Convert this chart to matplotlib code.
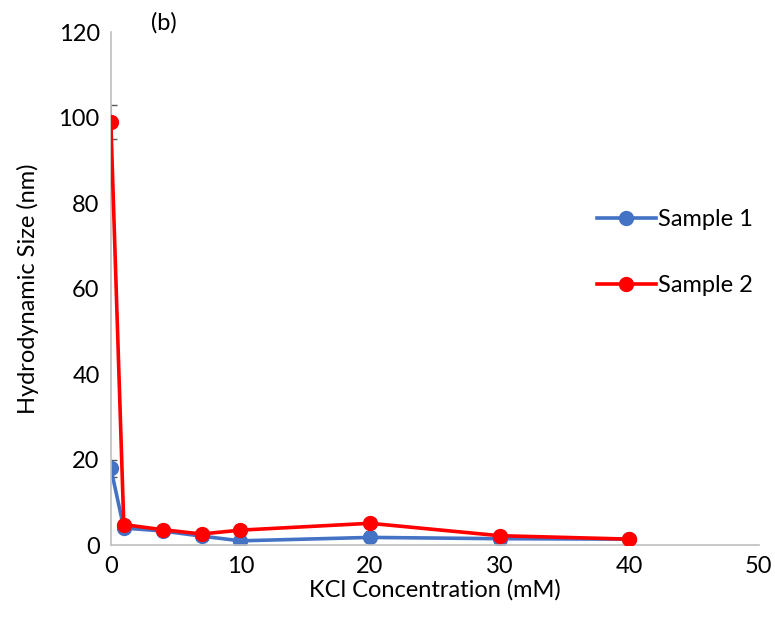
import numpy as np
import matplotlib.pyplot as plt

plt.rcParams['font.family'] = ['Lato', 'DejaVu Sans']

kcl = [0, 1, 4, 7, 10, 20, 30, 40]
sample1 = [18.0, 4.0, 3.3, 2.1, 1.0, 1.8, 1.5, 1.4]
sample2 = [99.0, 4.8, 3.6, 2.6, 3.5, 5.1, 2.2, 1.4]
err1 = [2.0, 0, 0, 0, 0, 0, 0, 0]
err2 = [4.0, 0, 0, 0, 0, 0, 0, 0]

fig = plt.figure(figsize=(7.75, 6.28), dpi=100)
ax = fig.add_axes([0.143, 0.132, 0.836, 0.817])

ax.errorbar(kcl, sample1, yerr=err1, fmt='none', ecolor='#595959', elinewidth=1.2, capsize=4, zorder=1)
ax.errorbar(kcl, sample2, yerr=err2, fmt='none', ecolor='#595959', elinewidth=1.2, capsize=4, zorder=1)
ax.plot(kcl, sample1, color='#4472C4', lw=2.6, marker='o', ms=10, label='Sample 1', zorder=2)
ax.plot(kcl, sample2, color='#FF0000', lw=2.6, marker='o', ms=10, label='Sample 2', zorder=3)

ax.set_xlim(0, 50)
ax.set_ylim(0, 120)
ax.set_xticks(range(0, 51, 10))
ax.set_yticks(range(0, 121, 20))
ax.tick_params(length=0, labelsize=17, pad=8)
for s in ['top', 'right']:
    ax.spines[s].set_visible(False)
for s in ['left', 'bottom']:
    ax.spines[s].set_color('#BFBFBF')
    ax.spines[s].set_linewidth(1.2)

ax.set_xlabel('KCl Concentration (mM)', fontsize=17, labelpad=1)
ax.set_ylabel('Hydrodynamic Size (nm)', fontsize=17, labelpad=14)

fig.text(0.195, 0.963, '(b)', fontsize=17, va='center')

ax.legend(loc='center left', bbox_to_anchor=(0.75, 0.57), frameon=False,
          fontsize=17, handlelength=2.5, labelspacing=1.9, handletextpad=0.1,
          borderpad=0, borderaxespad=0)

fig.savefig('out.png', dpi=100)
